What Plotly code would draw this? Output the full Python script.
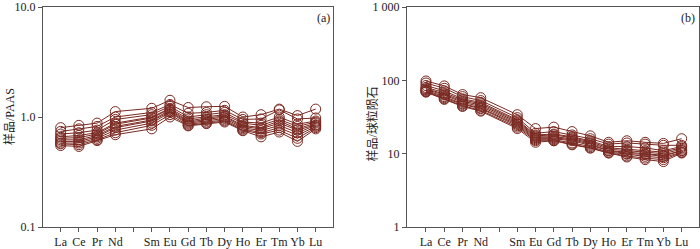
import plotly.graph_objects as go

elements = ["La", "Ce", "Pr", "Nd", "Pm", "Sm", "Eu", "Gd", "Tb", "Dy", "Ho", "Er", "Tm", "Yb", "Lu"]
tick_labels = ["La", "Ce", "Pr", "Nd", "", "Sm", "Eu", "Gd", "Tb", "Dy", "Ho", "Er", "Tm", "Yb", "Lu"]
plotted = ["La", "Ce", "Pr", "Nd", "Sm", "Eu", "Gd", "Tb", "Dy", "Ho", "Er", "Tm", "Yb", "Lu"]

# PAAS-normalised values (panel a)
paas_s1 = [0.80, 0.84, 0.88, 1.12, 1.20, 1.42, 1.22, 1.24, 1.25, 1.00, 1.05, 1.18, 1.03, 1.18]
paas_s2 = [0.74, 0.78, 0.82, 1.00, 1.10, 1.30, 1.08, 1.10, 1.15, 0.95, 0.96, 1.16, 0.96, 0.98]
paas_s3 = [0.70, 0.72, 0.76, 0.95, 1.05, 1.25, 1.00, 1.05, 1.10, 0.90, 0.88, 1.00, 0.86, 0.92]
paas_s4 = [0.66, 0.68, 0.72, 0.88, 1.00, 1.20, 0.96, 1.00, 1.05, 0.88, 0.84, 0.95, 0.82, 0.90]
paas_s5 = [0.64, 0.65, 0.70, 0.86, 0.98, 1.18, 0.92, 0.98, 1.02, 0.84, 0.80, 0.92, 0.78, 0.88]
paas_s6 = [0.62, 0.62, 0.68, 0.82, 0.94, 1.15, 0.90, 0.95, 1.00, 0.82, 0.78, 0.88, 0.76, 0.85]
paas_s7 = [0.60, 0.60, 0.66, 0.80, 0.92, 1.12, 0.88, 0.93, 0.97, 0.80, 0.75, 0.84, 0.72, 0.84]
paas_s8 = [0.58, 0.58, 0.64, 0.76, 0.88, 1.10, 0.86, 0.90, 0.94, 0.78, 0.72, 0.80, 0.68, 0.82]
paas_s9 = [0.57, 0.56, 0.62, 0.72, 0.84, 1.05, 0.84, 0.88, 0.92, 0.76, 0.70, 0.76, 0.64, 0.80]
paas_s10 = [0.55, 0.54, 0.61, 0.69, 0.78, 1.00, 0.83, 0.87, 0.90, 0.75, 0.66, 0.73, 0.60, 0.78]

# Chondrite-normalised values (panel b)
chon_s1 = [98, 84, 64, 58, 34, 22, 23, 20, 17.5, 14.3, 15, 14.3, 13.8, 16]
chon_s2 = [92, 78, 60, 53, 31, 19, 20, 18, 16, 13.5, 14, 13.5, 13, 13]
chon_s3 = [85, 72, 56, 50, 29, 18, 18.5, 17, 15, 12.5, 12.5, 12, 11, 12.5]
chon_s4 = [80, 68, 54, 48, 28, 17.5, 18, 16.5, 14.5, 12, 11.5, 11, 10.5, 12]
chon_s5 = [77, 65, 52, 46, 27, 17, 17, 16, 14, 11.5, 11, 10.5, 10, 11.5]
chon_s6 = [75, 63, 50, 44, 26, 16.5, 16.5, 15.5, 13.5, 11, 10.5, 10, 9.5, 11]
chon_s7 = [73, 60, 48, 42, 25, 16, 16, 15, 13, 11, 10, 9.8, 9.2, 11]
chon_s8 = [71, 58, 47, 41, 24, 15.5, 15.5, 14, 12.5, 10.5, 9.8, 9.2, 8.8, 10.5]
chon_s9 = [70, 56, 45, 39, 23, 15, 15, 13.5, 12, 10.3, 9.3, 8.7, 8.3, 10.4]
chon_s10 = [69, 55, 44, 38, 22, 14.3, 15, 13.2, 11.9, 10.2, 9, 8.3, 7.8, 10.2]

paas_series = [paas_s1, paas_s2, paas_s3, paas_s4, paas_s5, paas_s6, paas_s7, paas_s8, paas_s9, paas_s10]
chon_series = [chon_s1, chon_s2, chon_s3, chon_s4, chon_s5, chon_s6, chon_s7, chon_s8, chon_s9, chon_s10]

left_yticks = [0.1, 1, 10]
left_yticktext = ["0.1", "1.0", "10.0"]
right_yticks = [1, 10, 100, 1000]
right_yticktext = ["1", "10", "100", "1 000"]

COLOR = "#7a2a22"
FONT = "Liberation Serif, Times New Roman, Noto Sans CJK SC, serif"

xpos = [elements.index(e) for e in plotted]

fig = go.Figure()
for s in paas_series:
    fig.add_trace(go.Scatter(x=xpos, y=s, mode="lines+markers", xaxis="x", yaxis="y",
                             line=dict(color=COLOR, width=1),
                             marker=dict(symbol="circle-open", size=10, color=COLOR, line=dict(width=1)),
                             showlegend=False))
for s in chon_series:
    fig.add_trace(go.Scatter(x=xpos, y=s, mode="lines+markers", xaxis="x2", yaxis="y2",
                             line=dict(color=COLOR, width=1),
                             marker=dict(symbol="circle-open", size=10, color=COLOR, line=dict(width=1)),
                             showlegend=False))

axis_common = dict(showline=True, mirror=True, linecolor="#555", linewidth=1, showgrid=False,
                   zeroline=False, ticks="outside", ticklen=4, tickcolor="#555",
                   ticklabeloverflow="allow",
                   tickfont=dict(family=FONT, size=12, color="#222"))

fig.update_layout(
    width=700, height=249,
    margin=dict(l=0, r=0, t=5, b=18),
    paper_bgcolor="white", plot_bgcolor="white",
    xaxis=dict(domain=[43/700, 333/700], range=[-0.97, 14.95], tickmode="array",
               tickvals=list(range(len(elements))), ticktext=tick_labels, anchor="y", **axis_common),
    yaxis=dict(type="log", range=[-1, 1], tickmode="array", tickvals=left_yticks,
               ticktext=left_yticktext, anchor="x", **axis_common),
    xaxis2=dict(domain=[407/700, 699/700], range=[-1.04, 14.95], tickmode="array",
                tickvals=list(range(len(elements))), ticktext=tick_labels, anchor="y2", **axis_common),
    yaxis2=dict(type="log", range=[0, 3], tickmode="array", tickvals=right_yticks,
                ticktext=right_yticktext, anchor="x2", **axis_common),
    annotations=[
        dict(text="(a)", x=323/700, y=(231-16)/226, xref="paper", yref="paper", showarrow=False,
             xanchor="center", yanchor="middle", font=dict(family=FONT, size=12, color="#222")),
        dict(text="(b)", x=688/700, y=(231-16)/226, xref="paper", yref="paper", showarrow=False,
             xanchor="center", yanchor="middle", font=dict(family=FONT, size=12, color="#222")),
        dict(text="样品/PAAS", x=9/700, y=0.5, xref="paper", yref="paper", showarrow=False,
             xanchor="center", yanchor="middle",
             textangle=-90, font=dict(family=FONT, size=12, color="#222")),
        dict(text="样品/球粒陨石", x=373/700, y=0.47, xref="paper", yref="paper", showarrow=False,
             xanchor="center", yanchor="middle",
             textangle=-90, font=dict(family=FONT, size=12, color="#222")),
    ],
)

fig.write_html("out.html", config={"displayModeBar": False},
               post_script="document.body.style.margin='0';document.body.style.padding='0';")
